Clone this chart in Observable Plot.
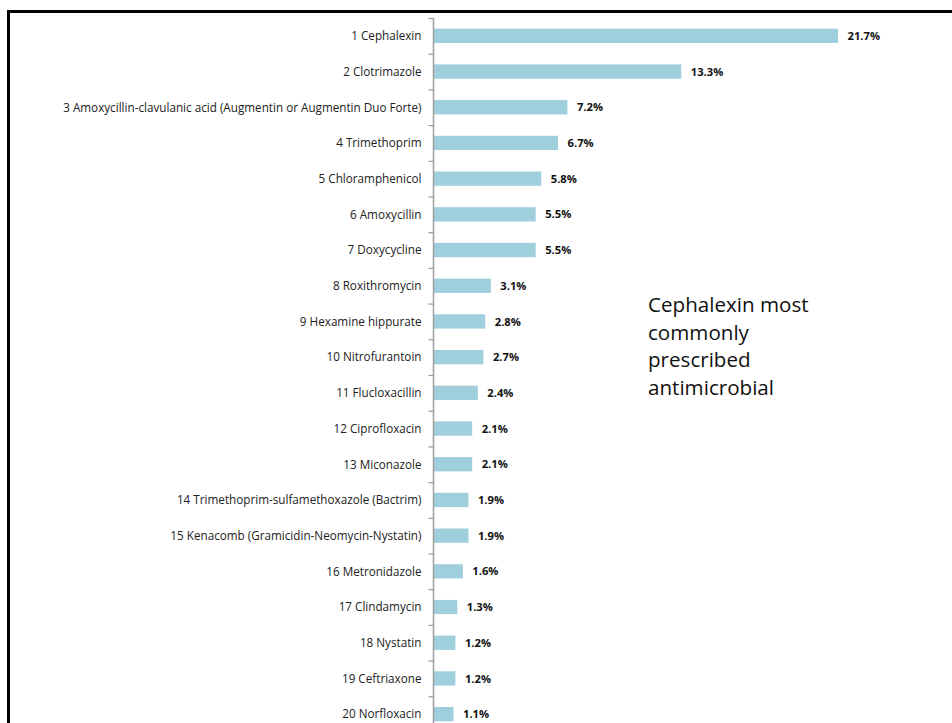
<!DOCTYPE html>
<html>
<head>
<meta charset="utf-8">
<script src="https://cdn.jsdelivr.net/npm/d3@7"></script>
<script src="https://cdn.jsdelivr.net/npm/@observablehq/plot@0.6"></script>
<style>
  html, body { margin: 0; padding: 0; background: #fff; overflow: hidden; }
  #wrap { position: relative; width: 952px; height: 723px; overflow: hidden; }
  #frame { position: absolute; left: 7px; top: 10px; right: -10px; bottom: -10px;
           border-top: 3px solid #000; border-left: 3px solid #000; pointer-events: none; }
  #note { position: absolute; left: 648px; top: 291px; font-family: "Open Sans", sans-serif;
          font-size: 20.6px; line-height: 27.7px; color: #111; }
  #chart { position: absolute; left: 0; top: 0; }
</style>
</head>
<body>
<div id="wrap">
  <div id="chart"></div>
  <div id="frame"></div>
  <div id="note">Cephalexin most<br>commonly<br>prescribed<br>antimicrobial</div>
</div>
<script>
const drugs = [
  "1 Cephalexin",
  "2 Clotrimazole",
  "3 Amoxycillin-clavulanic acid (Augmentin or Augmentin Duo Forte)",
  "4 Trimethoprim",
  "5 Chloramphenicol",
  "6 Amoxycillin",
  "7 Doxycycline",
  "8 Roxithromycin",
  "9 Hexamine hippurate",
  "10 Nitrofurantoin",
  "11 Flucloxacillin",
  "12 Ciprofloxacin",
  "13 Miconazole",
  "14 Trimethoprim-sulfamethoxazole (Bactrim)",
  "15 Kenacomb (Gramicidin-Neomycin-Nystatin)",
  "16 Metronidazole",
  "17 Clindamycin",
  "18 Nystatin",
  "19 Ceftriaxone",
  "20 Norfloxacin"
];
const shares = [21.7, 13.3, 7.2, 6.7, 5.8, 5.5, 5.5, 3.1, 2.8, 2.7, 2.4, 2.1, 2.1, 1.9, 1.9, 1.6, 1.3, 1.2, 1.2, 1.1];

const data = drugs.map((drug, i) => ({i, drug, share: shares[i]}));
const n = drugs.length;

const chart = Plot.plot({
  width: 952,
  height: 732,
  marginLeft: 433,
  marginRight: 15,
  marginTop: 18,
  marginBottom: 0,
  style: {fontFamily: "Open Sans, sans-serif", background: "transparent"},
  x: {domain: [0, 27], axis: null},
  y: {domain: [0, n], reverse: true, axis: null},
  marks: [
    Plot.rect(data, {x1: 0, x2: "share", y1: d => d.i + 0.3, y2: d => d.i + 0.7, fill: "#9fcedd"}),
    Plot.axisY({ticks: d3.range(0, n + 1), tickSize: 4.5, tickFormat: () => "", stroke: "#999", strokeWidth: 1.2}),
    Plot.axisY({ticks: data.map(d => d.i + 0.5), tickSize: 0, tickPadding: 12,
                tickFormat: v => drugs[Math.round(v - 0.5)], fontSize: 11.7, fill: "#222"}),
    Plot.ruleX([0], {stroke: "#a0a0a0", strokeWidth: 1.5}),
    Plot.text(data, {x: "share", y: d => d.i + 0.5, text: d => d.share.toFixed(1) + "%",
                     dx: 9, textAnchor: "start", fontWeight: "bold", fontSize: 11.2, fill: "#111"})
  ]
});
document.getElementById("chart").appendChild(chart);
</script>
</body>
</html>
